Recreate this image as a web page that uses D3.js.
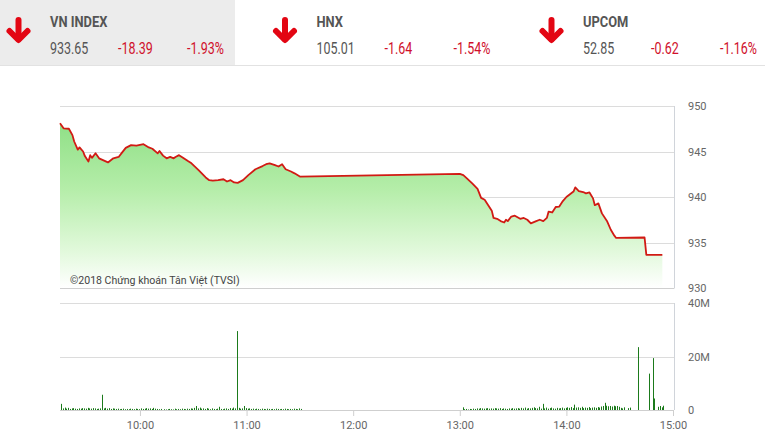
<!DOCTYPE html>
<html><head><meta charset="utf-8">
<script src="https://cdn.jsdelivr.net/npm/d3@7"></script>
<style>
html,body{margin:0;padding:0;background:#fff;}
svg{display:block;font-family:Roboto,"Noto Sans",sans-serif;}
</style></head>
<body><svg id="c" width="765" height="440"></svg>
<script>
// ---- data ----
const indexNames = ["VN INDEX", "HNX", "UPCOM"];
const indexValues = ["933.65", "105.01", "52.85"];
const indexChanges = ["-18.39", "-1.64", "-0.62"];
const indexPercents = ["-1.93%", "-1.54%", "-1.16%"];

const priceTimes = ["9:15","9:17","9:20","9:22","9:23","9:25","9:26","9:28","9:29","9:31","9:32","9:33","9:35","9:37","9:42","9:45","9:48","9:50","9:52","9:55","9:58","10:02","10:05","10:07","10:10","10:11","10:13","10:15","10:17","10:19","10:20","10:22","10:24","10:27","10:29","10:33","10:37","10:39","10:41","10:44","10:47","10:49","10:51","10:53","10:55","10:58","11:01","11:05","11:09","11:11","11:13","11:16","11:18","11:20","11:22","11:25","11:27","11:30","13:00","13:02","13:04","13:07","13:10","13:12","13:14","13:16","13:18","13:19","13:21","13:23","13:25","13:26","13:27","13:29","13:31","13:34","13:36","13:38","13:40","13:43","13:45","13:47","13:49","13:50","13:52","13:54","13:56","13:58","14:00","14:02","14:04","14:05","14:07","14:10","14:11","14:13","14:15","14:16","14:18","14:20","14:23","14:25","14:27","14:28","14:44","14:45","14:54"];
const priceValues = [948.1,947.55,947.5,946.8,946.1,945.2,945.45,945.0,944.5,943.9,944.6,944.3,944.8,944.25,943.8,944.25,944.4,944.9,945.4,945.7,945.65,945.8,945.45,945.3,944.8,945.05,944.55,944.25,944.4,944.25,944.4,944.6,944.35,943.95,943.7,942.95,942.15,941.85,941.8,941.85,941.95,941.7,941.85,941.6,941.55,941.85,942.4,943.05,943.4,943.6,943.7,943.5,943.35,943.6,943.05,942.8,942.6,942.25,942.55,942.4,942.05,941.5,940.9,939.9,939.7,939.1,938.5,937.7,937.6,937.35,937.2,937.5,937.35,937.85,937.95,937.6,937.7,937.5,937.1,937.35,937.5,937.35,937.7,938.4,938.3,938.9,938.95,939.55,940.0,940.3,940.6,941.05,940.65,940.5,940.4,940.5,939.85,939.1,939.3,938.2,937.3,936.4,935.75,935.5,935.55,933.65,933.65];

// volume (millions), one bar per minute
const volMorningStart = "9:15";
const volMorning = [
2.3,0.6,0.9,0.5,0.8,0.4,0.6,0.7,0.5,0.4,
0.6,0.5,0.7,0.6,0.5,0.8,0.6,0.5,0.7,0.6,
0.4,0.5,0.6,5.7,0.6,0.8,0.5,0.7,0.4,0.6,
0.5,0.4,0.5,0.3,0.4,0.5,0.3,0.4,0.3,0.5,
0.4,0.3,0.5,0.4,0.3,0.6,0.4,0.5,0.7,0.5,
0.6,0.4,0.8,0.5,0.4,0.3,0.4,0,0.3,0.2,
0.3,0.4,0.3,0.2,0.5,0.3,0.4,0.3,0.5,0.4,
0.3,0.5,0.4,0.6,0.5,0.8,1.5,0.6,0.9,0.5,
0.6,0.4,0.7,0.5,0.3,0.6,0.4,0.3,0.5,1.2,
0.4,0.3,0.5,0.6,0.4,0.7,0.5,0.9,0.6,29.5,
0.8,0.5,0.6,1.5,0.7,0.5,0.6,0.4,0.5,0.3,
0.5,0.4,0.3,0.5,0.4,0.3,0.5,0.4,0.3,0.4,
0.3,0.5,0.4,0.3,0.4,0.3,0.5,0.4,0.3,0.4,
0.3,0.5,0.4,0.3,0.6,0.4];
const volAfternoonStart = "13:00";
const volAfternoon = [
0,1.0,0.3,0.4,0.2,0.4,0.3,0.5,0.4,0.6,
0.5,0.7,0.6,0.5,0.6,0.7,0.5,0.6,0.5,0.7,
0.6,0.5,0.7,0.4,0.6,0.5,0.4,0.6,0.5,0.7,
0.5,0.6,0.7,0.5,0.8,0.6,0.9,0.5,0.7,0.6,
0.8,1.0,0.7,0.6,1.2,0.5,2.3,0.6,0.9,0.5,
0.7,0.9,0.6,0.5,0.8,0.6,0.7,0.9,0.6,0.8,
1.0,0.8,1.1,0.7,2.0,0.9,1.0,0.8,1.2,0.7,
0.9,0.8,1.1,0.7,0.9,1.0,0.8,1.1,0.9,1.3,
1.5,2.7,1.6,1.4,1.5,1.3,1.6,1.4,1.5,1.2,
0.8,0.6,1.0,0,0.7,0.9,0,0,0,0,
23.5,0,0,0,0,0,13.6,0,19.4,4.3,
0,1.2,1.5,1.0,1.6];

const priceTicks = [930,935,940,945,950];
const volTicks = [0,20,40];
const volTickLabels = ["0","20M","40M"];
const timeTicks = ["10:00","11:00","12:00","13:00","14:00","15:00"];
const copyright = "©2018 Chứng khoán Tân Việt (TVSI)";

// ---- helpers ----
const parseT = s => { const [h,m] = s.split(":").map(Number); return new Date(2018,0,1,h,m); };
const addMin = (s, k) => new Date(parseT(s).getTime() + k*60000);

const svg = d3.select("#c");
const red = "#d0102b", gray = "#555";

// ---- header ----
svg.append("rect").attr("x",0).attr("y",0).attr("width",235).attr("height",65).attr("fill","#ececec");
svg.append("line").attr("x1",0).attr("x2",765).attr("y1",65.5).attr("y2",65.5).attr("stroke","#e2e2e2");
const hx = [50, 316.5, 583];
const ax = [18.5, 285, 551.5];
indexNames.forEach((n,i)=>{
  const g = svg.append("g");
  const a = g.append("g").attr("transform",`translate(${ax[i]},30)`);
  a.append("path").attr("d","M0,-10 L0,9").attr("stroke","#e30613").attr("stroke-width",6).attr("stroke-linecap","round");
  a.append("path").attr("d","M-9,1 L0,10 L9,1").attr("stroke","#e30613").attr("stroke-width",6).attr("fill","none").attr("stroke-linecap","round").attr("stroke-linejoin","round");
  g.append("text").attr("transform",`translate(${hx[i]},27) scale(0.86,1)`).attr("font-size",15).attr("font-weight","bold").attr("fill",gray).text(n);
  g.append("text").attr("transform",`translate(${hx[i]},54) scale(0.78,1)`).attr("font-size",16).attr("fill",gray).text(indexValues[i]);
  g.append("text").attr("transform",`translate(${hx[i]+68},54) scale(0.78,1)`).attr("font-size",16).attr("fill",red).text(indexChanges[i]);
  g.append("text").attr("transform",`translate(${hx[i]+137},54) scale(0.78,1)`).attr("font-size",16).attr("fill",red).text(indexPercents[i]);
});

// ---- scales ----
const x = d3.scaleTime().domain([parseT("9:15"), parseT("15:00")]).range([60, 673]);
const y = d3.scaleLinear().domain([930, 950]).range([288, 106]);
const yv = d3.scaleLinear().domain([0, 40]).range([410, 303]);

// ---- price panel ----
const defs = svg.append("defs");
const gr = defs.append("linearGradient").attr("id","gfill").attr("gradientUnits","userSpaceOnUse")
  .attr("x1",0).attr("x2",0).attr("y1",y(950)).attr("y2",y(930));
gr.append("stop").attr("offset","0%").attr("stop-color","#86dc7e");
gr.append("stop").attr("offset","45%").attr("stop-color","#b4eda8");
gr.append("stop").attr("offset","80%").attr("stop-color","#e2f9dc");
gr.append("stop").attr("offset","100%").attr("stop-color","#ffffff");

svg.append("g").selectAll("line").data(priceTicks.filter(d=>d>930)).join("line")
  .attr("x1",60).attr("x2",674).attr("y1",d=>Math.round(y(d))+0.5).attr("y2",d=>Math.round(y(d))+0.5)
  .attr("stroke","#dcdcdc");

const pdata = priceTimes.map((t,i)=>({t:parseT(t), v:priceValues[i]}));
svg.append("path").datum(pdata)
  .attr("d", d3.area().x(d=>x(d.t)).y0(y(930)).y1(d=>y(d.v)))
  .attr("fill","url(#gfill)");
svg.append("text").attr("transform","translate(70,284) scale(0.96,1)").attr("font-size",11).attr("fill","#444").text(copyright);
svg.append("path").datum(pdata)
  .attr("d", d3.line().x(d=>x(d.t)).y(d=>y(d.v)))
  .attr("fill","none").attr("stroke","#d11a14").attr("stroke-width",1.8).attr("stroke-linejoin","round");

svg.append("line").attr("x1",60).attr("x2",674).attr("y1",288.5).attr("y2",288.5).attr("stroke","#cfcfcf");
svg.append("line").attr("x1",674.5).attr("x2",674.5).attr("y1",106).attr("y2",288.5).attr("stroke","#d0d4da");

const pyAxis = svg.append("g").attr("transform","translate(684,0)")
  .call(d3.axisRight(y).tickValues(priceTicks).tickSize(0).tickPadding(4).tickFormat(d3.format("d")));
pyAxis.select(".domain").remove();
pyAxis.selectAll("text").attr("font-size",11).attr("fill","#666").attr("font-family","Roboto,sans-serif");

// ---- volume panel ----
svg.append("g").selectAll("line").data(volTicks.filter(d=>d>0)).join("line")
  .attr("x1",60).attr("x2",674).attr("y1",d=>Math.round(yv(d))+0.5).attr("y2",d=>Math.round(yv(d))+0.5)
  .attr("stroke","#dcdcdc");
svg.append("line").attr("x1",674.5).attr("x2",674.5).attr("y1",303).attr("y2",410).attr("stroke","#d0d4da");

const vdata = volMorning.map((v,i)=>({t:addMin(volMorningStart,i), v}))
  .concat(volAfternoon.map((v,i)=>({t:addMin(volAfternoonStart,i), v})));
svg.append("g").selectAll("rect").data(vdata.filter(d=>d.v>0)).join("rect")
  .attr("x",d=>Math.round(x(d.t))+1).attr("width",1)
  .attr("y",d=>yv(d.v)).attr("height",d=>yv(0)-yv(d.v))
  .attr("fill","#1b7a1b");

const xAxis = svg.append("g").attr("transform","translate(0,410)")
  .call(d3.axisBottom(x).tickValues(timeTicks.map(parseT)).tickSize(6).tickPadding(5).tickFormat(d3.timeFormat("%H:%M")));
xAxis.select(".domain").attr("stroke","#cfcfcf").attr("d","M60,0.5H674");
xAxis.selectAll(".tick line").attr("stroke","#cfcfcf");
xAxis.selectAll("text").attr("font-size",11).attr("fill","#666").attr("font-family","Roboto,sans-serif");

const vyAxis = svg.append("g").attr("transform","translate(684,0)")
  .call(d3.axisRight(yv).tickValues(volTicks).tickSize(0).tickPadding(4).tickFormat(d=>volTickLabels[volTicks.indexOf(d)]));
vyAxis.select(".domain").remove();
vyAxis.selectAll("text").attr("font-size",11).attr("fill","#666").attr("font-family","Roboto,sans-serif");
</script></body></html>
